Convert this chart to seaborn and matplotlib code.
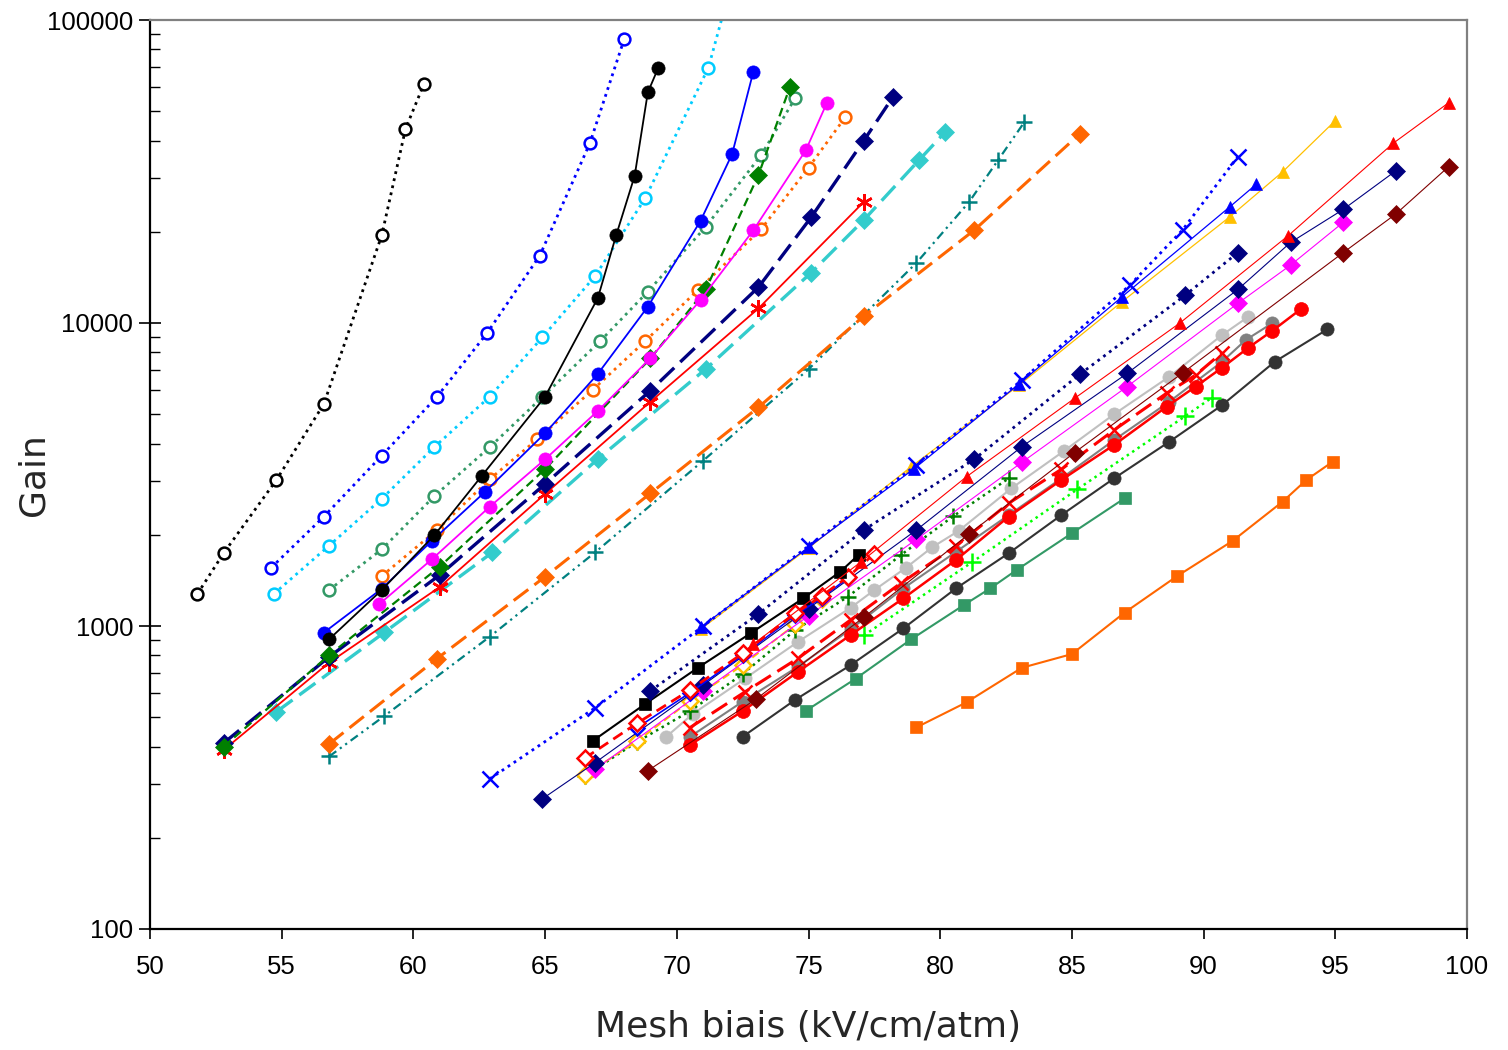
import matplotlib
matplotlib.use("Agg")
import matplotlib.pyplot as plt
import seaborn as sns
import pandas as pd
from matplotlib.ticker import FixedLocator, LogLocator, NullFormatter, FixedFormatter

# ---------------- data ----------------
# left group
x_black_open = [51.8, 52.8, 54.8, 56.6, 58.8, 59.7, 60.4]
y_black_open = [1276, 1742, 3034, 5405, 19500, 43700, 61500]

x_blue_open = [54.6, 56.6, 58.8, 60.9, 62.8, 64.8, 66.7, 68.0]
y_blue_open = [1557, 2296, 3650, 5715, 9268, 16700, 39200, 86300]

x_cyan_open = [54.7, 56.8, 58.8, 60.8, 62.9, 64.9, 66.9, 68.8, 71.2, 73.0]
y_cyan_open = [1276, 1842, 2631, 3900, 5715, 8975, 14290, 25800, 69600, 260000]

x_sgreen_open = [56.8, 58.8, 60.8, 62.9, 64.9, 67.1, 68.9, 71.1, 73.2, 74.5]
y_sgreen_open = [1315, 1791, 2686, 3893, 5700, 8730, 12690, 20780, 35800, 55300]

x_orange_open = [58.8, 60.9, 62.9, 64.7, 66.8, 68.8, 70.8, 73.2, 75.0, 76.4]
y_orange_open = [1462, 2075, 3055, 4130, 6010, 8710, 12850, 20400, 32560, 47800]

x_black_dot = [56.8, 58.8, 60.8, 62.6, 65.0, 67.0, 67.7, 68.4, 68.9, 69.3]
y_black_dot = [904, 1315, 1996, 3133, 5715, 12080, 19500, 30600, 57700, 69600]

x_blue_dot = [56.6, 58.8, 60.7, 62.7, 65.0, 67.0, 68.9, 70.9, 72.1, 72.9]
y_blue_dot = [951, 1328, 1909, 2762, 4328, 6790, 11320, 21720, 36100, 67200]

x_magenta_dot = [58.7, 60.7, 62.9, 65.0, 67.0, 69.0, 70.9, 72.9, 74.9, 75.7]
y_magenta_dot = [1180, 1660, 2476, 3550, 5125, 7660, 11910, 20200, 37200, 53300]

x_green_dia = [52.8, 56.8, 61.0, 65.0, 69.0, 71.1, 73.1, 74.3]
y_green_dia = [400, 801, 1570, 3297, 7640, 12900, 30800, 60300]

x_navy_dia = [52.8, 56.8, 61.0, 65.0, 69.0, 73.1, 75.1, 77.1, 78.2]
y_navy_dia = [411, 791, 1473, 2943, 5985, 13130, 22330, 40000, 55600]

x_red_star = [52.8, 56.8, 61.0, 65.0, 69.0, 73.1, 77.1]
y_red_star = [390, 757, 1345, 2729, 5500, 11170, 25100]

x_turq_dia = [54.8, 58.9, 63.0, 67.0, 71.1, 75.1, 77.1, 79.2, 80.2]
y_turq_dia = [521, 953, 1750, 3555, 7050, 14650, 21880, 34500, 42800]

x_orange_dia = [56.8, 60.9, 65.0, 69.0, 73.1, 77.1, 81.3, 85.3]
y_orange_dia = [408, 781, 1454, 2741, 5270, 10540, 20280, 42100]

x_teal_plus = [56.8, 58.9, 62.9, 66.9, 71.0, 75.0, 79.1, 81.1, 82.2, 83.2]
y_teal_plus = [371, 505, 922, 1750, 3513, 7035, 15800, 25100, 34500, 46100]

# right group
x_blue_x = [62.9, 66.9, 71.0, 75.0, 79.1, 83.1, 87.2, 89.2, 91.3]
y_blue_x = [313, 537, 1000, 1836, 3400, 6480, 13330, 20280, 35400]

x_gold_tri = [70.9, 75.0, 78.9, 83.0, 86.9, 91.0, 93.0, 95.0]
y_gold_tri = [975, 1808, 3356, 6240, 11750, 22430, 31540, 46550]

x_blue_tri = [70.9, 75.0, 79.0, 83.0, 86.9, 91.0, 92.0]
y_blue_tri = [990, 1820, 3300, 6300, 12200, 24200, 28700]

x_navy_dotdia = [69.0, 73.1, 77.1, 81.3, 85.3, 89.3, 91.3]
y_navy_dotdia = [611, 1096, 2075, 3555, 6770, 12350, 17070]

x_navy_thin = [64.9, 66.9, 71.0, 75.0, 79.1, 83.1, 87.1, 91.3, 93.3, 95.3, 97.3]
y_navy_thin = [269, 354, 638, 1142, 2075, 3908, 6820, 12900, 18440, 23700, 31800]

x_red_tri = [72.9, 77.0, 81.0, 85.1, 89.1, 93.2, 97.2, 99.3]
y_red_tri = [870, 1630, 3110, 5640, 10000, 19380, 39200, 53300]

x_mag_dia = [66.9, 71.0, 75.0, 79.1, 83.1, 87.1, 91.3, 93.3, 95.3]
y_mag_dia = [337, 609, 1080, 1932, 3468, 6170, 11610, 15520, 21480]

x_black_sq = [66.8, 68.8, 70.8, 72.8, 74.8, 76.2, 76.9]
y_black_sq = [417, 553, 728, 946, 1234, 1509, 1716]

x_red_odia = [66.5, 68.5, 70.5, 72.5, 74.5, 75.5, 76.5, 77.5]
y_red_odia = [366, 478, 615, 812, 1101, 1256, 1454, 1730]

x_blue_odia = [68.5, 70.5, 72.5, 74.5, 75.5, 76.5]
y_blue_odia = [462, 602, 800, 1085, 1240, 1440]

x_gold_odia = [66.5, 68.5, 70.5, 72.5, 74.5, 75.5]
y_gold_odia = [322, 417, 566, 743, 1013, 1225]

x_green_plus = [66.5, 68.5, 70.5, 72.5, 74.5, 76.5, 78.5, 80.5, 82.6]
y_green_plus = [320, 415, 524, 694, 970, 1250, 1713, 2305, 3070]

x_lgray = [69.6, 70.6, 72.6, 74.6, 76.6, 77.5, 78.7, 79.7, 80.7, 82.7, 84.7, 86.6, 88.7, 90.7, 91.7]
y_lgray = [431, 512, 672, 887, 1149, 1314, 1557, 1820, 2060, 2846, 3782, 4999, 6652, 9125, 10490]

x_gray = [70.5, 72.5, 74.6, 76.6, 78.6, 80.6, 82.6, 84.6, 86.6, 88.7, 90.7, 91.6, 92.6]
y_gray = [431, 563, 734, 976, 1331, 1757, 2323, 3070, 4108, 5500, 7450, 8790, 9977]

x_red_dot = [70.5, 72.5, 74.6, 76.6, 78.6, 80.6, 82.6, 84.6, 86.6, 88.6, 89.7, 90.7, 91.7, 92.6, 93.7]
y_red_dot = [405, 524, 706, 934, 1234, 1652, 2296, 3033, 3958, 5298, 6170, 7118, 8290, 9413, 11125]

x_dgray = [72.5, 74.5, 76.6, 78.6, 80.6, 82.6, 84.6, 86.6, 88.7, 90.7, 92.7, 94.7]
y_dgray = [431, 571, 743, 982, 1331, 1738, 2323, 3070, 4058, 5355, 7450, 9530]

x_sgreen_sq = [74.9, 76.8, 78.9, 80.9, 81.9, 82.9, 85.0, 87.0]
y_sgreen_sq = [525, 671, 904, 1173, 1331, 1530, 2024, 2639]

x_orange_sq = [79.1, 81.0, 83.1, 85.0, 87.0, 89.0, 91.1, 93.0, 93.9, 94.9]
y_orange_sq = [463, 560, 728, 808, 1107, 1462, 1909, 2573, 3033, 3485]

x_red_x = [70.5, 72.6, 74.6, 76.6, 78.5, 80.6, 82.6, 84.6, 86.6, 88.6, 89.7, 90.7]
y_red_x = [462, 607, 782, 1047, 1384, 1836, 2542, 3289, 4433, 5868, 6735, 7980]

x_dred_dia = [68.9, 73.0, 77.1, 81.1, 85.1, 89.2, 95.3, 97.3, 99.3]
y_dred_dia = [333, 573, 1069, 2013, 3735, 6840, 17070, 22900, 32800]

x_lgreen_plus = [77.1, 81.2, 85.2, 89.3, 90.3]
y_lgreen_plus = [931, 1622, 2824, 4925, 5660]

x_ticks = [50, 55, 60, 65, 70, 75, 80, 85, 90, 95, 100]
y_ticks = [100, 1000, 10000, 100000]
y_tick_labels = ["100", "1000", "10000", "100000"]
x_label = "Mesh biais (kV/cm/atm)"
y_label = "Gain"

# ---------------- styles ----------------
DOT = (0, (1, 1.6))
DASH = (0, (4, 2.2))
LDASH = (0, (6, 2.5))
DASHDOTDOT = (0, (4, 2, 1, 2, 1, 2))
SOLID = "-"
STAR = (6, 2, 0)
DS = 9  # diamond size

series = [
    # data, color, linestyle, linewidth, marker, size, open
    (x_black_open, y_black_open, "#000000", DOT, 2.0, "o", 8.5, True),
    (x_blue_open, y_blue_open, "#0000FF", DOT, 2.0, "o", 8.5, True),
    (x_cyan_open, y_cyan_open, "#00CCFF", DOT, 2.0, "o", 8.5, True),
    (x_sgreen_open, y_sgreen_open, "#339966", DOT, 2.0, "o", 8.5, True),
    (x_orange_open, y_orange_open, "#FF6600", DOT, 2.0, "o", 8.5, True),
    (x_turq_dia, y_turq_dia, "#33CCCC", LDASH, 2.4, "D", DS, False),
    (x_teal_plus, y_teal_plus, "#008080", DASHDOTDOT, 1.6, "+", 12, False),
    (x_orange_dia, y_orange_dia, "#FF6600", LDASH, 2.2, "D", DS, False),
    (x_red_star, y_red_star, "#FF0000", SOLID, 1.3, STAR, 12, False),
    (x_navy_dia, y_navy_dia, "#000080", LDASH, 2.4, "D", DS, False),
    (x_green_dia, y_green_dia, "#008000", DASH, 1.6, "D", DS, False),
    (x_magenta_dot, y_magenta_dot, "#FF00FF", SOLID, 1.3, "o", 9.5, False),
    (x_blue_dot, y_blue_dot, "#0000FF", SOLID, 1.3, "o", 9.5, False),
    (x_black_dot, y_black_dot, "#000000", SOLID, 1.3, "o", 9.5, False),
    # right group
    (x_orange_sq, y_orange_sq, "#FF6600", SOLID, 1.5, "s", 8.5, False),
    (x_sgreen_sq, y_sgreen_sq, "#339966", SOLID, 1.5, "s", 8.5, False),
    (x_dgray, y_dgray, "#333333", SOLID, 1.5, "o", 9.5, False),
    (x_lgreen_plus, y_lgreen_plus, "#00FF00", DOT, 1.8, "+", 13, False),
    (x_lgray, y_lgray, "#C0C0C0", SOLID, 1.5, "o", 9.5, False),
    (x_gray, y_gray, "#808080", SOLID, 1.5, "o", 9.5, False),
    (x_red_dot, y_red_dot, "#FF0000", SOLID, 1.8, "o", 10, False),
    (x_red_x, y_red_x, "#FF0000", LDASH, 2.2, "x", 10, False),
    (x_dred_dia, y_dred_dia, "#800000", SOLID, 0.8, "D", DS, False),
    (x_green_plus, y_green_plus, "#008000", DOT, 1.8, "+", 12, False),
    (x_gold_odia, y_gold_odia, "#FFC000", DASH, 1.4, "D", 8, True),
    (x_mag_dia, y_mag_dia, "#FF00FF", SOLID, 0.8, "D", DS, False),
    (x_navy_thin, y_navy_thin, "#000080", SOLID, 0.8, "D", DS, False),
    (x_blue_odia, y_blue_odia, "#0000FF", SOLID, 1.2, "D", 7, True),
    (x_red_odia, y_red_odia, "#FF0000", DASH, 2.0, "D", 8.5, True),
    (x_black_sq, y_black_sq, "#000000", SOLID, 1.5, "s", 8.5, False),
    (x_red_tri, y_red_tri, "#FF0000", SOLID, 0.8, "^", 9, False),
    (x_navy_dotdia, y_navy_dotdia, "#000080", DOT, 2.0, "D", DS, False),
    (x_gold_tri, y_gold_tri, "#FFC000", SOLID, 0.9, "^", 9, False),
    (x_blue_tri, y_blue_tri, "#0000FF", SOLID, 0.9, "^", 9, False),
    (x_blue_x, y_blue_x, "#0000FF", DOT, 2.0, "x", 12, False),
]

sns.set_theme(style="ticks")
plt.rcParams["font.family"] = ["Liberation Sans", "DejaVu Sans"]

fig = plt.figure(figsize=(15.08, 10.5), dpi=100)
ax = fig.add_axes([150 / 1508, 1 - 929 / 1050, (1467 - 150) / 1508, (929 - 20) / 1050])

for xs, ys, col, ls, lw, mk, ms, is_open in series:
    df = pd.DataFrame({"x": xs, "y": ys})
    kw = dict(color=col, linestyle=ls, linewidth=lw, marker=mk, markersize=ms,
              markeredgecolor=col, sort=False, estimator=None, legend=False, ax=ax)
    if is_open:
        kw.update(markerfacecolor="white", markeredgewidth=1.8)
    elif mk in ("+", "x", STAR):
        kw.update(markeredgewidth=1.8)
    else:
        kw.update(markerfacecolor=col, markeredgewidth=0.5)
    sns.lineplot(data=df, x="x", y="y", **kw)

ax.set_yscale("log")
ax.set_xlim(50, 100)
ax.set_ylim(100, 100000)

ax.xaxis.set_major_locator(FixedLocator(x_ticks))
ax.yaxis.set_major_locator(FixedLocator(y_ticks))
ax.yaxis.set_major_formatter(FixedFormatter(y_tick_labels))
ax.yaxis.set_minor_locator(LogLocator(base=10, subs=range(2, 10)))
ax.yaxis.set_minor_formatter(NullFormatter())

ax.tick_params(axis="x", which="major", direction="out", length=7, width=1.2,
               labelsize=18.5, colors="black", pad=12)
ax.tick_params(axis="y", which="major", direction="inout", length=16, width=1.2,
               labelsize=18.5, colors="black", pad=4)
ax.tick_params(axis="y", which="minor", direction="in", length=7, width=1.0, colors="black")

for side in ("left", "bottom"):
    ax.spines[side].set_color("black")
    ax.spines[side].set_linewidth(1.6)
for side in ("top", "right"):
    ax.spines[side].set_visible(True)
    ax.spines[side].set_color("#808080")
    ax.spines[side].set_linewidth(1.6)

ax.set_xlabel(x_label, fontsize=26, family=["DejaVu Sans"])
ax.set_ylabel(y_label, fontsize=26, family=["DejaVu Sans"])
ax.xaxis.set_label_coords(0.5, -(1044 - 929) / 909, transform=ax.transAxes)
ax.yaxis.set_label_coords(-(150 - 50) / 1317, 0.5, transform=ax.transAxes)
ax.xaxis.label.set_va("bottom")
ax.grid(False)
ax.set_facecolor("white")
fig.patch.set_facecolor("white")

fig.savefig("out.png", dpi=100, facecolor="white")
